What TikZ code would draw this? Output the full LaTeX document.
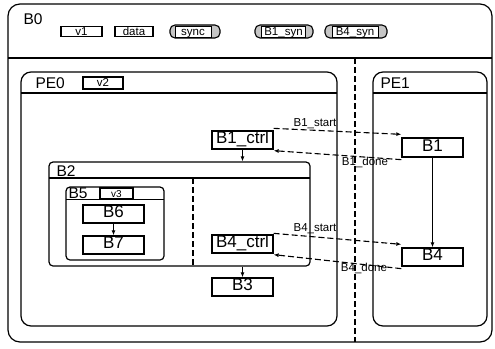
\documentclass[tikz,border=0pt]{standalone}
\usepackage{fontspec}
\setmainfont{Liberation Sans}
\usetikzlibrary{arrows.meta,calc}
\begin{document}
\begin{tikzpicture}[x=1pt,y=-1pt, line width=1pt,
 box/.style={draw, line width=1.3pt, inner sep=0pt, minimum width=61pt, minimum height=18pt, text height=0.72em, text depth=0pt, font=\fontsize{17}{17}\selectfont},
 tag/.style={draw, line width=1.1pt, inner sep=0pt, minimum height=10pt, text height=0.72em, text depth=0pt, font=\fontsize{11.5}{11.5}\selectfont},
 cont/.style={draw, line width=1.2pt, inner sep=0pt},
 title/.style={anchor=west, inner sep=0pt, font=\fontsize{15.5}{15.5}\selectfont},
 lbl/.style={inner sep=0pt, font=\fontsize{11.5}{11.5}\selectfont},
 arr/.style={-{Latex[length=5pt,width=4pt]}},
 sig/.style={arr, dash pattern=on 6pt off 3pt, line width=1.1pt},
 sep/.style={dash pattern=on 6pt off 3pt, line width=1.2pt},
 pill/.style={draw, line width=1.1pt, fill=gray!45, rounded corners=5pt},
 chan/.style={draw, fill=white, inner sep=0.5pt, minimum height=11pt, text height=0.72em, text depth=0pt, font=\fontsize{11.5}{11.5}\selectfont}]
\useasboundingbox (0,0) rectangle (495,348);
% B0
\node[cont, rounded corners=12pt, minimum width=484pt, minimum height=338pt] (b0) at (250,173) {};
\draw[line width=1.2pt] (8,58) -- (492,58);
\node[title] (b0t) at (23,19) {B0};
\node[tag, minimum width=41pt] (v1) at (81.5,31.5) {v1};
\node[tag, minimum width=38pt] (data) at (134,31.5) {data};
\draw[pill] (170,25) rectangle (220,38);
\node[chan, minimum width=36pt] (sync) at (193,31.5) {sync};
\draw[pill] (255,25) rectangle (313,38);
\node[chan, minimum width=44pt] (b1syn) at (283.5,31.5) {B1\_syn};
\draw[pill] (325,25) rectangle (387,38);
\node[chan, minimum width=46pt] (b4syn) at (355,31.5) {B4\_syn};
\draw[sep] (355,58) -- (355,342);
% PE0
\node[cont, rounded corners=10pt, minimum width=316pt, minimum height=254pt] (pe0) at (179,199) {};
\draw[line width=1.2pt] (21,93) -- (337,93);
\node[title] (pe0t) at (35,83) {PE0};
\node[tag, minimum width=40pt, minimum height=12pt] (v2) at (103,83) {v2};
% PE1
\node[cont, rounded corners=10pt, minimum width=114pt, minimum height=254pt] (pe1) at (430,199) {};
\draw[line width=1.2pt] (373,93) -- (487,93);
\node[title] (pe1t) at (380,83) {PE1};
% B2
\node[cont, rounded corners=4pt, minimum width=261pt, minimum height=104pt] (b2) at (179.5,214) {};
\draw[line width=1.2pt] (49,178) -- (310,178);
\node[title] (b2t) at (56,171) {B2};
\draw[sep] (193,178) -- (193,266);
% B5
\node[cont, rounded corners=4pt, minimum width=98pt, minimum height=73pt] (b5) at (115,223.5) {};
\draw[line width=1.2pt] (66,199.5) -- (164,199.5);
\node[title] (b5t) at (68,193) {B5};
\node[tag, minimum width=33pt, minimum height=11pt, font=\fontsize{10}{10}\selectfont] (v3) at (116.5,193.5) {v3};
\node[box] (b6) at (113.5,214) {B6};
\node[box] (b7) at (113.5,245) {B7};
\draw[arr] (b6) -- (b7);
% controllers
\node[box] (b1ctrl) at (242.5,140) {B1\_ctrl};
\node[box] (b4ctrl) at (242.5,244) {B4\_ctrl};
\node[box] (b3) at (242.5,287) {B3};
\node[box, minimum height=19pt] (b1) at (432.5,147.5) {B1};
\node[box] (b4) at (432.5,257) {B4};
\draw[arr] (b1ctrl.south) -- (b1ctrl.south |- b2.north);
\draw[arr] (b3.north |- b2.south) -- (b3.north);
\draw[arr] (b1) -- (b4);
% signals
\draw[sig] ([yshift=2pt]b1ctrl.north east) -- ([yshift=3pt]b1.north west);
\draw[sig] ([yshift=-2pt]b1.south west) -- ([yshift=-1pt]b1ctrl.south east);
\draw[sig] ([yshift=1pt]b4ctrl.north east) -- ([yshift=3pt]b4.north west);
\draw[sig] ([yshift=-2pt]b4.south west) -- ([yshift=-1pt]b4ctrl.south east);
\node[lbl] (l1s) at (315,124) {B1\_start};
\node[lbl] (l1d) at (365,162) {B1\_done};
\node[lbl] (l4s) at (315,229) {B4\_start};
\node[lbl] (l4d) at (364,268) {B4\_done};
\end{tikzpicture}
\end{document}
